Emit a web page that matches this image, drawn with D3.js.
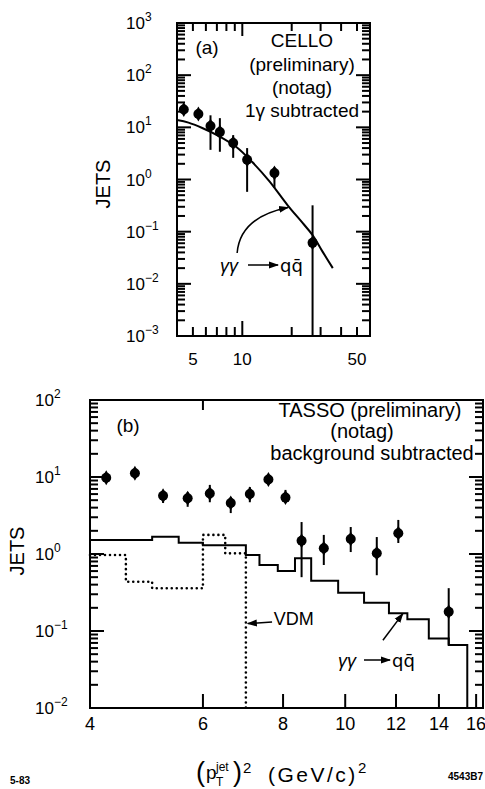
<!DOCTYPE html>
<html>
<head>
<meta charset="utf-8">
<script src="https://cdn.jsdelivr.net/npm/d3@7"></script>
<style>
  body { margin: 0; background: #fff; }
  svg { display: block; }
  text { font-family: "Liberation Sans", Arial, sans-serif; fill: #000; }
</style>
</head>
<body>
<svg id="fig" width="485" height="789"></svg>
<script>
// ---------- (a) CELLO, jets vs pT^2 ----------
const celloPt2   = [4.4, 5.4, 6.4, 7.3, 8.8, 10.7, 15.7, 26.8];
const celloJets  = [22, 18, 10.6, 8.1, 5.0, 2.4, 1.33, 0.061];
const celloErrHi = [24, 19.5, 17, 15, 7.1, 4.0, 1.73, 0.32];
const celloErrLo = [20, 16.5, 3.7, 3.4, 2.6, 0.58, 0.69, 0];

// gamma gamma -> q qbar prediction
const qcdPt2  = [4, 4.7, 5.7, 7.2, 9.2, 11.5, 14.6, 18.9, 23.3, 26.8, 30.9, 35.6];
const qcdJets = [13.8, 12.3, 9.7, 6.8, 4.2, 2.16, 0.93, 0.32, 0.147, 0.086, 0.041, 0.020];

const yExpA = [3, 2, 1, 0, -1, -2, -3];
const xLabelsA = [5, 10, 50];
const xMinorA = [5, 6, 7, 8, 9, 20, 30, 40, 50];
const xMajorA = [10];

// ---------- (b) TASSO, jets vs pT^2 ----------
const tassoPt2   = [4.24, 4.70, 5.20, 5.68, 6.15, 6.63, 7.10, 7.59, 8.07, 8.55, 9.26, 10.2, 11.2, 12.1, 14.5];
const tassoJets  = [9.8, 11.2, 5.7, 5.3, 6.1, 4.6, 6.0, 9.3, 5.4, 1.49, 1.19, 1.57, 1.02, 1.86, 0.178];
const tassoErrHi = [10.6, 12.1, 6.8, 6.4, 7.9, 5.5, 7.4, 10.0, 6.8, 2.6, 1.77, 2.24, 1.66, 2.77, 0.36];
const tassoErrLo = [9.0, 10.3, 4.6, 4.1, 4.7, 3.4, 4.7, 8.6, 4.6, 0.50, 0.72, 1.06, 0.53, 1.39, 0.066];

// gamma gamma -> q qbar histogram (bin edges and contents)
const qcdEdgesB  = [4, 5, 5.5, 6, 7, 7.35, 7.85, 8.35, 8.85, 9.75, 10.7, 11.7, 12.5, 13.5, 14.5, 15.5];
const qcdLevelsB = [1.52, 1.68, 1.40, 1.30, 0.97, 0.72, 0.60, 0.88, 0.45, 0.314, 0.233, 0.170, 0.142, 0.080, 0.066];

// VDM histogram
const vdmEdges  = [4, 4.55, 5, 6, 6.5, 7];
const vdmLevels = [0.97, 0.436, 0.359, 1.77, 1.02];

const yExpB = [2, 1, 0, -1, -2];
const xLabelsB = [4, 6, 8, 10, 12, 14, 16];
const xTicksB = [6, 8, 10, 12, 14, 16];
const xTopTicksB = [6];

// ---------- set-up ----------
const svg = d3.select("#fig");
const defs = svg.append("defs");
defs.append("marker")
  .attr("id", "arrow")
  .attr("viewBox", "0 -4 10 8")
  .attr("refX", 9).attr("refY", 0)
  .attr("markerWidth", 10).attr("markerHeight", 8)
  .attr("markerUnits", "userSpaceOnUse")
  .attr("orient", "auto")
  .append("path").attr("d", "M0,-3.5L10,0L0,3.5Z").attr("fill", "#000");

const xA = d3.scaleLog().domain([4, 60]).range([177, 370]);
const yA = d3.scaleLog().domain([1e-3, 1e3]).range([336, 23]);
const xB = d3.scaleLog().domain([4, 16.4]).range([90, 483]);
const yB = d3.scaleLog().domain([1e-2, 1e2]).range([708, 400]);

// decade values and the 2..9 subdivisions between them
function logTickList(scale) {
  const d = scale.domain();
  const lo = Math.round(Math.log10(d[0])), hi = Math.round(Math.log10(d[1]));
  const list = [];
  for (let e = lo; e <= hi; e++) {
    list.push({ v: Math.pow(10, e), major: true });
    if (e < hi) for (let k = 2; k <= 9; k++) list.push({ v: k * Math.pow(10, e), major: false });
  }
  return list;
}

// inward frame ticks, drawn as short stroked segments
function drawTicks(g, segs) {
  g.append("g").selectAll("line").data(segs).join("line")
    .attr("x1", s => s[0]).attr("y1", s => s[1]).attr("x2", s => s[2]).attr("y2", s => s[3])
    .attr("stroke", "#000").attr("stroke-width", 2);
}

function yMirrorSegs(x, y, majLen, minLen) {
  const [x0, x1] = x.range();
  const segs = [];
  logTickList(y).forEach(t => {
    const yy = y(t.v), len = t.major ? majLen : minLen;
    segs.push([x0, yy, x0 + len, yy], [x1, yy, x1 - len, yy]);
  });
  return segs;
}

function xEdgeSegs(x, y, values, len, top) {
  const [y0, y1] = y.range();
  const ye = top ? y1 : y0, dir = top ? 1 : -1;
  return values.map(v => [x(v), ye, x(v), ye + dir * len]);
}

function frame(g, x, y) {
  const [x0, x1] = x.range(), [y0, y1] = y.range();
  g.append("rect").attr("x", x0).attr("y", y1).attr("width", x1 - x0).attr("height", y0 - y1)
    .attr("fill", "none").attr("stroke", "#000").attr("stroke-width", 2);
}

function powerLabels(g, y, exps, xLeft) {
  const t = g.selectAll("text.pow").data(exps).join("text").attr("class", "pow")
    .attr("x", xLeft).attr("y", e => y(Math.pow(10, e)) + 6)
    .attr("font-size", 17);
  t.append("tspan").text("10");
  t.append("tspan").attr("dy", -8).attr("font-size", 12)
    .text(e => (e < 0 ? "\u2212" + (-e) : String(e)));
}

function points(g, x, y, px, py, hi, lo) {
  const yMin = y.domain()[0];
  const d = px.map((v, i) => ({ x: v, y: py[i], hi: hi[i], lo: Math.max(lo[i], yMin) }));
  g.selectAll("line.err").data(d).join("line").attr("class", "err")
    .attr("x1", p => x(p.x)).attr("x2", p => x(p.x))
    .attr("y1", p => y(p.hi)).attr("y2", p => y(p.lo))
    .attr("stroke", "#000").attr("stroke-width", 2);
  g.selectAll("circle.pt").data(d).join("circle").attr("class", "pt")
    .attr("cx", p => x(p.x)).attr("cy", p => y(p.y)).attr("r", 5).attr("fill", "#000");
  g.selectAll("path.pt").data(d).join("path").attr("class", "pt")
    .attr("transform", p => `translate(${x(p.x)},${y(p.y)})`)
    .attr("d", d3.symbol(d3.symbolDiamond, 65)).attr("fill", "#000");
}

function stepPath(edges, levels, dropTo) {
  const pts = edges.slice(0, levels.length).map((e, i) => [e, levels[i]]);
  pts.push([edges[levels.length], levels[levels.length - 1]]);
  if (dropTo !== undefined) pts.push([edges[levels.length], dropTo]);
  return pts;
}

// ---------- panel (a) ----------
const gA = svg.append("g");
frame(gA, xA, yA);
drawTicks(gA, [].concat(
  yMirrorSegs(xA, yA, 14, 8),
  xEdgeSegs(xA, yA, xMinorA, 9, false),
  xEdgeSegs(xA, yA, xMajorA, 15, false),
  xEdgeSegs(xA, yA, xMinorA, 8, true),
  xEdgeSegs(xA, yA, xMajorA, 13, true)
));
powerLabels(gA, yA, yExpA, 126);
gA.selectAll("text.xl").data(xLabelsA).join("text").attr("class", "xl")
  .attr("x", d => xA(d)).attr("y", 365).attr("text-anchor", "middle").attr("font-size", 17)
  .text(d => d);

gA.append("path")
  .datum(qcdPt2.map((v, i) => [v, qcdJets[i]]))
  .attr("d", d3.line().x(d => xA(d[0])).y(d => yA(d[1])).curve(d3.curveCatmullRom))
  .attr("fill", "none").attr("stroke", "#000").attr("stroke-width", 2);

points(gA, xA, yA, celloPt2, celloJets, celloErrHi, celloErrLo);

gA.append("text").attr("x", 207).attr("y", 54).attr("text-anchor", "middle").attr("font-size", 19).text("(a)");
[["CELLO", 47], ["(preliminary)", 71], ["(notag)", 94], ["1\u03b3  subtracted", 117]].forEach(([s, yy]) =>
  gA.append("text").attr("x", 302).attr("y", yy).attr("text-anchor", "middle").attr("font-size", 19).text(s));

gA.append("text").attr("transform", "translate(110,184) rotate(-90)").attr("text-anchor", "middle")
  .attr("font-size", 20).text("JETS");

// curved pointer to the prediction curve
{
  const p0 = [xA(9.3), yA(0.039)], c = [xA(9.7), yA(0.19)], p1 = [xA(19.0), yA(0.29)];
  gA.append("path").attr("d", `M${p0[0]},${p0[1]}Q${c[0]},${c[1]} ${p1[0]},${p1[1]}`)
    .attr("fill", "none").attr("stroke", "#000").attr("stroke-width", 1.5).attr("marker-end", "url(#arrow)");
  const ty = 272;
  gA.append("text").attr("x", 220).attr("y", ty).attr("font-size", 18).attr("font-style", "italic").text("\u03b3\u03b3");
  gA.append("line").attr("x1", 248).attr("x2", 278).attr("y1", ty - 7).attr("y2", ty - 7)
    .attr("stroke", "#000").attr("stroke-width", 1.5).attr("marker-end", "url(#arrow)");
  gA.append("text").attr("x", 280).attr("y", ty).attr("font-size", 18)
    .style("font-family", "'DejaVu Sans', sans-serif").text("qq\u0304");
}

// ---------- panel (b) ----------
const gB = svg.append("g");
frame(gB, xB, yB);
drawTicks(gB, [].concat(
  yMirrorSegs(xB, yB, 14, 8),
  xEdgeSegs(xB, yB, xTicksB, 14, false),
  xEdgeSegs(xB, yB, xTopTicksB, 10, true)
));
powerLabels(gB, yB, yExpB, 35);
gB.selectAll("text.xl").data(xLabelsB).join("text").attr("class", "xl")
  .attr("x", d => xB(d)).attr("y", 730).attr("text-anchor", "middle").attr("font-size", 18)
  .text(d => d);

const stepLine = (x, y) => d3.line().x(d => x(d[0])).y(d => y(d[1])).curve(d3.curveStepAfter);

gB.append("path")
  .datum(stepPath(vdmEdges, vdmLevels, 1e-2))
  .attr("d", stepLine(xB, yB))
  .attr("fill", "none").attr("stroke", "#000").attr("stroke-width", 2.6)
  .attr("stroke-linecap", "round").attr("stroke-dasharray", "0 5");

gB.append("path")
  .datum(stepPath(qcdEdgesB, qcdLevelsB, 1e-2))
  .attr("d", stepLine(xB, yB))
  .attr("fill", "none").attr("stroke", "#000").attr("stroke-width", 2);

points(gB, xB, yB, tassoPt2, tassoJets, tassoErrHi, tassoErrLo);

gB.append("text").attr("x", 128).attr("y", 432).attr("text-anchor", "middle").attr("font-size", 19).text("(b)");
[["TASSO (preliminary)", 417, 370], ["(notag)", 438, 362], ["background  subtracted", 460, 372]].forEach(([s, yy, xx]) =>
  gB.append("text").attr("x", xx).attr("y", yy).attr("text-anchor", "middle").attr("font-size", 20).text(s));

gB.append("text").attr("transform", "translate(24,551) rotate(-90)").attr("text-anchor", "middle")
  .attr("font-size", 20).text("JETS");

// VDM pointer
gB.append("line").attr("x1", xB(7.69)).attr("y1", yB(0.131)).attr("x2", xB(7.05)).attr("y2", yB(0.125))
  .attr("stroke", "#000").attr("stroke-width", 1.5).attr("marker-end", "url(#arrow)");
gB.append("text").attr("x", xB(7.74)).attr("y", 625).attr("font-size", 18).text("VDM");

// gamma gamma -> q qbar pointer
gB.append("line").attr("x1", xB(11.45)).attr("y1", yB(0.076)).attr("x2", xB(12.3)).attr("y2", yB(0.168))
  .attr("stroke", "#000").attr("stroke-width", 1.5).attr("marker-end", "url(#arrow)");
gB.append("text").attr("x", 338).attr("y", 667).attr("font-size", 18).attr("font-style", "italic").text("\u03b3\u03b3");
gB.append("line").attr("x1", 364).attr("x2", 390).attr("y1", 660).attr("y2", 660)
  .attr("stroke", "#000").attr("stroke-width", 1.5).attr("marker-end", "url(#arrow)");
gB.append("text").attr("x", 392).attr("y", 667).attr("font-size", 18)
  .style("font-family", "'DejaVu Sans', sans-serif").text("qq\u0304");

// x-axis title: (p_T^jet)^2  (GeV/c)^2
const gT = svg.append("g");
gT.append("text").attr("x", 196).attr("y", 781).attr("font-size", 27).text("(");
gT.append("text").attr("x", 206).attr("y", 779).attr("font-size", 19).text("p");
gT.append("text").attr("x", 216).attr("y", 771).attr("font-size", 12).text("jet");
gT.append("text").attr("x", 216).attr("y", 786).attr("font-size", 12).text("T");
gT.append("text").attr("x", 233).attr("y", 781).attr("font-size", 27).text(")");
gT.append("text").attr("x", 243).attr("y", 773).attr("font-size", 15).text("2");
gT.append("text").attr("x", 268).attr("y", 782).attr("font-size", 21).attr("letter-spacing", 2.5).text("(GeV/c)");
gT.append("text").attr("x", 358).attr("y", 773).attr("font-size", 15).text("2");

svg.append("text").attr("x", 10).attr("y", 784).attr("font-size", 10).attr("font-weight", "bold").text("5-83");
svg.append("text").attr("x", 483).attr("y", 780).attr("text-anchor", "end").attr("font-size", 10)
  .attr("font-weight", "bold").text("4543B7");
</script>
</body>
</html>
